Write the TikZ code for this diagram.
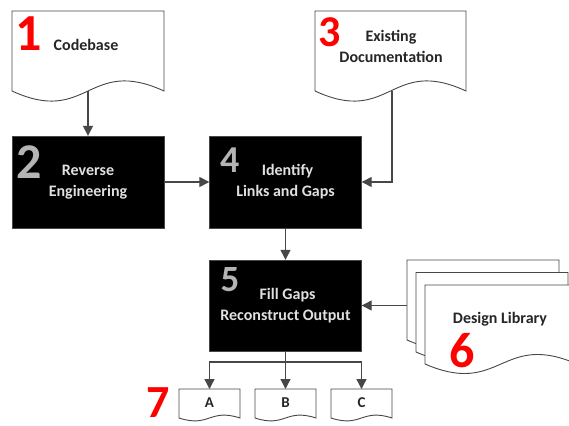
\documentclass[tikz,border=0pt]{standalone}
\usepackage{xcolor}
\usepackage{fontspec}
\setmainfont{Carlito}
\usetikzlibrary{positioning, arrows.meta}

\definecolor{linegray}{HTML}{474747}
\definecolor{numgray}{HTML}{B4B4B4}
\definecolor{numred}{HTML}{FF0000}

\begin{document}
\begin{tikzpicture}[x=1pt, y=-1pt,
    stepbox/.style={draw=linegray, fill=black, minimum width=152pt, minimum height=92pt,
      inner sep=0pt, font=\fontsize{16}{21}\selectfont\bfseries, align=center, text=white!88!black},
    doc/.style={draw=linegray, line width=0.9pt, fill=white},
    arr/.style={draw=linegray, line width=1.3pt, -{Triangle[length=10pt,width=10pt]}},
    lbl/.style={font=\fontsize{16}{21}\selectfont\bfseries, align=center, inner sep=0pt, text=black!85},
    bignum/.style={font=\fontsize{#1}{#1}\selectfont\bfseries, inner sep=0pt},
  ]
  \clip (0,0) rectangle (569,425);

  % document outline: left, top, right, bottom, wave depth
  \def\docshape#1#2#3#4#5{(#1,#2) -- (#3,#2) -- (#3,#4)
    .. controls ({(#1+(#3))/2},#4-#5) and ({(#1+(#3))/2},#4+#5) .. (#1,#4) -- cycle}

  % input documents
  \draw[doc] \docshape{12}{11}{164}{91}{35};
  \node[lbl] (codebase) at (86,45) {Codebase};
  \node[bignum=52, text=numred] (n1) at (29,34) {1};
  \coordinate (codeout) at (88,91);

  \draw[doc] \docshape{315}{11}{466}{91}{35};
  \node[lbl] (existing) at (391,46) {Existing\\Documentation};
  \node[bignum=44, text=numred] (n3) at (330,32) {3};
  \coordinate (docout) at (392,91);

  % process boxes
  \node[stepbox] (reveng) at (88,182) {Reverse\\Engineering};
  \node[bignum=50, text=numgray] (n2) at (29,162) {2};

  \node[stepbox] (links) at (285.5,182) {\hspace*{4pt}Identify\\Links and Gaps};
  \node[bignum=38, text=numgray] (n4) at (230,160) {4};

  \node[stepbox, minimum height=91pt] (fill) at (285.5,305.5) {\hspace*{4pt}Fill Gaps\\Reconstruct Output};
  \node[bignum=37, text=numgray] (n5) at (230,280) {5};

  % design library stack
  \foreach \xl/\yt/\yb in {407/260/340, 416/272.5/352, 425/285/364} {
    \draw[doc] \docshape{\xl}{\yt}{\xl+152}{\yb}{33};
  }
  \node[lbl] (library) at (500,319) {Design Library};
  \node[bignum=50, text=numred] (n6) at (462,351) {6};
  \coordinate (libout) at (407,305.5);

  % outputs
  \foreach \nm/\xl/\lab in {outA/179/A, outB/255/B, outC/331/C} {
    \draw[doc] \docshape{\xl}{389}{\xl+61}{418}{10};
    \node[lbl, minimum height=26pt, anchor=north, font=\fontsize{15}{18}\selectfont\bfseries] (\nm) at ({\xl+30.5},389) {\lab};
  }
  \node[bignum=46, text=numred] (n7) at (158,403) {7};

  % connectors
  \draw[arr] (codeout) -- (reveng.north);
  \draw[arr] (reveng.east) -- (links.west);
  \draw[arr] (docout) |- (links.east);
  \draw[arr] (links.south) -- (fill.north);
  \draw[arr] (libout) -- (fill.east);
  \coordinate (split) at (285.5,362);
  \draw[draw=linegray, line width=1.3pt] (fill.south) -- (split);
  \foreach \nm in {outA,outB,outC}
    \draw[arr] (split) -| (\nm.north);
\end{tikzpicture}
\end{document}
